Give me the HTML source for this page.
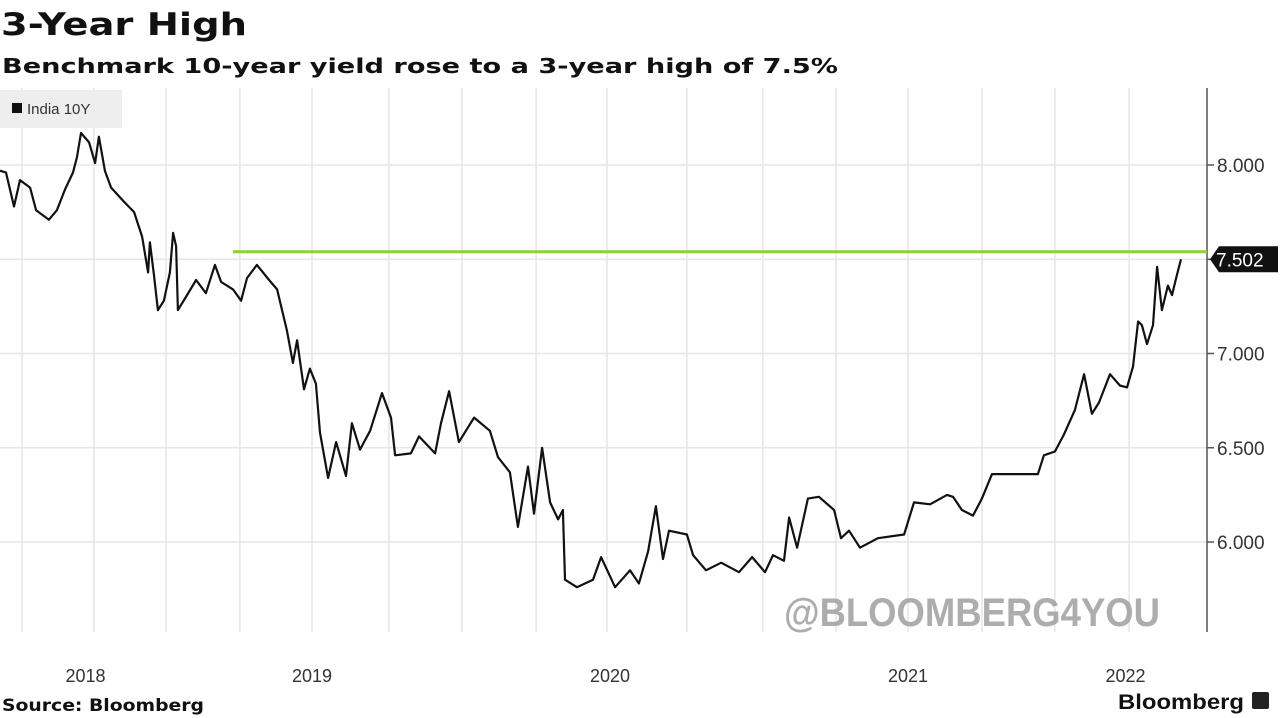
<!DOCTYPE html>
<html><head><meta charset="utf-8"><style>
html,body{margin:0;padding:0;background:#fff;width:1280px;height:718px;overflow:hidden;font-family:"Liberation Sans",sans-serif}
</style></head><body>
<svg width="1280" height="718" viewBox="0 0 1280 718" xmlns="http://www.w3.org/2000/svg">
<text x="1" y="35" font-size="31" font-weight="bold" fill="#111" font-family="DejaVu Sans, sans-serif" textLength="246" lengthAdjust="spacingAndGlyphs">3-Year High</text>
<text x="2" y="73" font-size="20" font-weight="bold" fill="#111" font-family="DejaVu Sans, sans-serif" textLength="836" lengthAdjust="spacingAndGlyphs">Benchmark 10-year yield rose to a 3-year high of 7.5%</text>
<g id="grid"></g>
<g id="axis"></g>
<g id="xaxis"></g>
<text x="784" y="626" font-size="40" font-weight="bold" fill="#999" fill-opacity="0.8" textLength="376" lengthAdjust="spacingAndGlyphs">@BLOOMBERG4YOU</text>
<line id="ref" stroke="#8ccf3c" stroke-width="3"/>
<path id="line" fill="none" stroke="#111" stroke-width="2.2" stroke-linejoin="round"/>
<g id="lastlbl"></g>
<rect x="0" y="90" width="122" height="38" fill="#eeeeee"/>
<rect x="12" y="103" width="10" height="10" fill="#111"/>
<text x="27" y="114" font-size="15" fill="#333">India 10Y</text>
<text x="2" y="711" font-size="17" font-weight="bold" fill="#111" font-family="DejaVu Sans, sans-serif" textLength="202" lengthAdjust="spacingAndGlyphs">Source: Bloomberg</text>
<text x="1118" y="709" font-size="21" font-weight="bold" fill="#111" textLength="126" lengthAdjust="spacingAndGlyphs">Bloomberg</text>
<rect x="1252" y="692" width="17" height="17" rx="2" fill="#222"/>
</svg>
<script>
const dates=[2017.953,2017.973,2018.000,2018.020,2018.054,2018.074,2018.117,2018.144,2018.171,2018.198,2018.211,2018.225,2018.252,2018.272,2018.285,2018.305,2018.326,2018.366,2018.403,2018.430,2018.450,2018.456,2018.470,2018.483,2018.503,2018.523,2018.534,2018.544,2018.550,2018.577,2018.611,2018.644,2018.674,2018.695,2018.735,2018.762,2018.782,2018.815,2018.856,2018.883,2018.916,2018.936,2018.950,2018.973,2018.993,2019.013,2019.027,2019.054,2019.081,2019.114,2019.134,2019.161,2019.195,2019.235,2019.265,2019.279,2019.332,2019.359,2019.413,2019.433,2019.460,2019.493,2019.544,2019.597,2019.624,2019.664,2019.691,2019.725,2019.745,2019.772,2019.799,2019.826,2019.842,2019.849,2019.889,2019.943,2019.970,2020.017,2020.067,2020.097,2020.128,2020.154,2020.178,2020.198,2020.258,2020.279,2020.322,2020.373,2020.433,2020.477,2020.520,2020.547,2020.584,2020.601,2020.628,2020.664,2020.701,2020.752,2020.775,2020.802,2020.839,2020.899,2020.987,2021.020,2021.074,2021.131,2021.151,2021.181,2021.218,2021.248,2021.282,2021.336,2021.386,2021.436,2021.456,2021.493,2021.523,2021.560,2021.591,2021.617,2021.641,2021.678,2021.711,2021.735,2021.755,2021.772,2021.785,2021.802,2021.822,2021.836,2021.852,2021.872,2021.886,2021.903,2021.916];
const yields=[7.97,7.96,7.78,7.92,7.88,7.76,7.71,7.76,7.87,7.96,8.04,8.17,8.12,8.01,8.15,7.97,7.88,7.81,7.75,7.62,7.43,7.59,7.41,7.23,7.28,7.43,7.64,7.57,7.23,7.30,7.39,7.32,7.47,7.38,7.34,7.28,7.40,7.47,7.39,7.34,7.12,6.95,7.07,6.81,6.92,6.84,6.58,6.34,6.53,6.35,6.63,6.49,6.59,6.79,6.66,6.46,6.47,6.56,6.47,6.63,6.80,6.53,6.66,6.59,6.45,6.37,6.08,6.40,6.15,6.50,6.21,6.12,6.17,5.80,5.76,5.80,5.92,5.76,5.85,5.78,5.95,6.19,5.91,6.06,6.04,5.93,5.85,5.89,5.84,5.92,5.84,5.93,5.90,6.13,5.97,6.23,6.24,6.17,6.02,6.06,5.97,6.02,6.04,6.21,6.20,6.25,6.24,6.17,6.14,6.23,6.36,6.36,6.36,6.36,6.46,6.48,6.57,6.70,6.89,6.68,6.74,6.89,6.83,6.82,6.93,7.17,7.15,7.05,7.15,7.46,7.23,7.36,7.31,7.42,7.50];
const yTicks=[6,6.5,7,7.5,8];
const yTickLabels=["6.000","6.500","7.000","7.500","8.000"];
const xGridYears=[2018.027,2018.268,2018.510,2018.758,2019.0,2019.258,2019.503,2019.752,2019.990,2020.258,2020.513,2020.758,2021.0,2021.248,2021.493,2021.742];
const xLabelYears=[2018.24,2019.0,2020.0,2021.0,2021.73];
const xLabels=["2018","2019","2020","2021","2022"];
const highLevel=[7.54];
const lastValue=["7.502"];
const NS="http://www.w3.org/2000/svg";
const X=t=>312+(t-2019)*298;
const Y=v=>165+(8-v)*188.5;
const PLOT_TOP=88,PLOT_BOT=632,AX=1207;
function mk(tag,attrs,parent){const e=document.createElementNS(NS,tag);for(const k in attrs)e.setAttribute(k,attrs[k]);parent.appendChild(e);return e;}
const grid=document.getElementById('grid'),axis=document.getElementById('axis'),xaxis=document.getElementById('xaxis');
xGridYears.forEach(t=>{const l=mk('line',{x1:X(t),x2:X(t),y1:PLOT_TOP,y2:PLOT_BOT,stroke:'#e6e6e6','stroke-width':1.5},grid);

});
yTicks.forEach((v,i)=>{const l=mk('line',{x1:0,x2:AX,y1:Y(v),y2:Y(v),stroke:'#e6e6e6','stroke-width':1.5},grid);


const tk=mk('line',{x1:AX,x2:AX+7,y1:Y(v),y2:Y(v),stroke:'#555','stroke-width':1.5},axis);


const tx=mk('text',{x:AX+10,y:Y(v)+7,'font-size':19,fill:'#333'},axis);tx.textContent=yTickLabels[i];

});
const al=mk('line',{x1:AX,x2:AX,y1:PLOT_TOP,y2:PLOT_BOT,stroke:'#555','stroke-width':1.5},axis);


xLabelYears.forEach((t,i)=>{const tx=mk('text',{x:X(t),y:682,'font-size':18,fill:'#333','text-anchor':'middle'},xaxis);tx.textContent=xLabels[i];

});
const ref=document.getElementById('ref');
ref.setAttribute('x1',233);ref.setAttribute('x2',AX);ref.setAttribute('y1',Y(highLevel[0]));ref.setAttribute('y2',Y(highLevel[0]));
document.getElementById('line').setAttribute('d',dates.map((t,i)=>(i?'L':'M')+X(t).toFixed(1)+','+Y(yields[i]).toFixed(1)).join(''));
const lg=document.getElementById('lastlbl');const ly=Y(yields[yields.length-1]);
const bg=mk('path',{d:`M${AX+3},${ly} L${AX+12},${ly-13} L1278,${ly-13} L1278,${ly+13} L${AX+12},${ly+13} Z`,fill:'#111'},lg);


const lt=mk('text',{x:1216,y:ly+7,'font-size':19,fill:'#fff'},lg);lt.textContent=lastValue[0];


</script>
</body></html>
